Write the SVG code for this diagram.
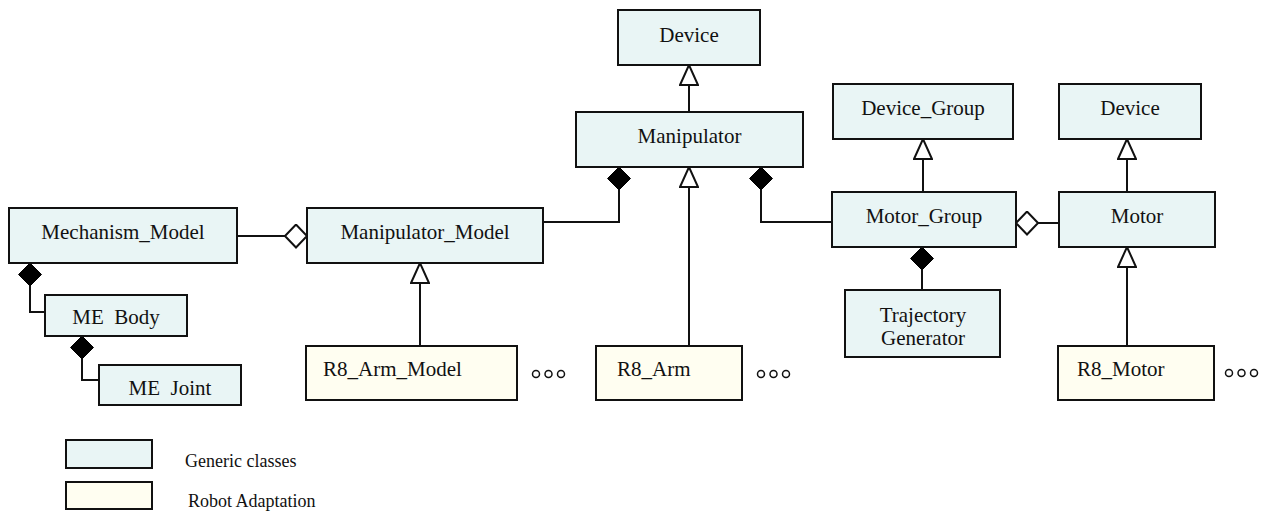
<svg xmlns="http://www.w3.org/2000/svg" width="1272" height="511" viewBox="0 0 1272 511">
  <style>
    .generic { fill: #E9F5F5; stroke: #111; stroke-width: 2; }
    .robot { fill: #FFFEF1; stroke: #111; stroke-width: 2; }
    .label { font-family: "Liberation Serif", "Times New Roman", serif; font-size: 21px; fill: #111; }
    .mid { text-anchor: middle; }
    .legend { font-family: "Liberation Serif", "Times New Roman", serif; font-size: 18px; fill: #111; }
    .edge { fill: none; stroke: #111; stroke-width: 2; }
    .dots circle { fill: none; stroke: #111; stroke-width: 1.5; }
  </style>
  <defs>
    <!-- hollow triangle: generalisation -->
    <marker id="inherit" markerUnits="userSpaceOnUse" markerWidth="22" markerHeight="20" refX="20" refY="9" orient="auto" viewBox="-1 -1 22 20">
      <path d="M0,0 L20,9 L0,18 Z" fill="#fff" stroke="#111" stroke-width="2" stroke-linejoin="miter"/>
    </marker>
    <!-- filled diamond: composition -->
    <marker id="compose" markerUnits="userSpaceOnUse" markerWidth="26" markerHeight="25" refX="23" refY="11.5" orient="auto" viewBox="-1 -1 26 25">
      <path d="M0,11.5 L11.5,0 L23,11.5 L11.5,23 Z" fill="#000" stroke="#000" stroke-width="1"/>
    </marker>
    <!-- hollow diamond: aggregation -->
    <marker id="aggregate" markerUnits="userSpaceOnUse" markerWidth="26" markerHeight="25" refX="22" refY="11.5" orient="auto" viewBox="-1 -1 26 25">
      <path d="M0,11.5 L11,0 L22,11.5 L11,23 Z" fill="#fff" stroke="#111" stroke-width="2"/>
    </marker>
  </defs>

  <!-- connectors -->
  <g id="connectors">
    <path class="edge" d="M689,112 L689,65" marker-end="url(#inherit)"/>
    <path class="edge" d="M689,346 L689,167" marker-end="url(#inherit)"/>
    <path class="edge" d="M543,222 L619,222 L619,167" marker-end="url(#compose)"/>
    <path class="edge" d="M832,222 L761,222 L761,167" marker-end="url(#compose)"/>
    <path class="edge" d="M237,236 L307,236" marker-end="url(#aggregate)"/>
    <path class="edge" d="M45,312 L30,312 L30,263" marker-end="url(#compose)"/>
    <path class="edge" d="M99,380 L82,380 L82,336" marker-end="url(#compose)"/>
    <path class="edge" d="M420,346 L420,263" marker-end="url(#inherit)"/>
    <path class="edge" d="M923,192 L923,139" marker-end="url(#inherit)"/>
    <path class="edge" d="M1127,192 L1127,139" marker-end="url(#inherit)"/>
    <path class="edge" d="M1059,223 L1016,223" marker-end="url(#aggregate)"/>
    <path class="edge" d="M922,290 L922,247" marker-end="url(#compose)"/>
    <path class="edge" d="M1127,346 L1127,247" marker-end="url(#inherit)"/>
  </g>

  <!-- generic classes -->
  <g id="device-top">
    <rect class="generic" x="618" y="10" width="142" height="55"/>
    <text class="label mid" x="689" y="42">Device</text>
  </g>
  <g id="manipulator">
    <rect class="generic" x="576" y="112" width="227" height="55"/>
    <text class="label mid" x="689.5" y="143">Manipulator</text>
  </g>
  <g id="device-group">
    <rect class="generic" x="833" y="84" width="180" height="55"/>
    <text class="label mid" x="923" y="115">Device_Group</text>
  </g>
  <g id="device-right">
    <rect class="generic" x="1059" y="84" width="142" height="55"/>
    <text class="label mid" x="1130" y="115">Device</text>
  </g>
  <g id="mechanism-model">
    <rect class="generic" x="9" y="208" width="228" height="55"/>
    <text class="label mid" x="123" y="239">Mechanism_Model</text>
  </g>
  <g id="manipulator-model">
    <rect class="generic" x="307" y="208" width="236" height="55"/>
    <text class="label mid" x="425" y="239">Manipulator_Model</text>
  </g>
  <g id="motor-group">
    <rect class="generic" x="832" y="192" width="184" height="55"/>
    <text class="label mid" x="924" y="223">Motor_Group</text>
  </g>
  <g id="motor">
    <rect class="generic" x="1059" y="192" width="156" height="55"/>
    <text class="label mid" x="1137" y="223">Motor</text>
  </g>
  <g id="me-body">
    <rect class="generic" x="45" y="295" width="142" height="41"/>
    <text class="label mid" x="116" y="324" xml:space="preserve">ME  Body</text>
  </g>
  <g id="me-joint">
    <rect class="generic" x="99" y="365" width="142" height="40"/>
    <text class="label mid" x="170" y="395" xml:space="preserve">ME  Joint</text>
  </g>
  <g id="trajectory-generator">
    <rect class="generic" x="845" y="290" width="155" height="67"/>
    <text class="label mid" x="923" y="322">Trajectory</text>
    <text class="label mid" x="923" y="345">Generator</text>
  </g>

  <!-- robot-specific classes -->
  <g id="r8-arm-model">
    <rect class="robot" x="306" y="346" width="211" height="54"/>
    <text class="label" x="323" y="376">R8_Arm_Model</text>
  </g>
  <g id="r8-arm">
    <rect class="robot" x="596" y="346" width="146" height="54"/>
    <text class="label" x="617" y="376">R8_Arm</text>
  </g>
  <g id="r8-motor">
    <rect class="robot" x="1058" y="346" width="156" height="54"/>
    <text class="label" x="1077" y="376">R8_Motor</text>
  </g>

  <!-- continuation marks -->
  <g class="dots">
    <circle cx="536" cy="374" r="3.5"/><circle cx="548.5" cy="374" r="3.5"/><circle cx="561" cy="374" r="3.5"/>
    <circle cx="761" cy="374" r="3.5"/><circle cx="773.5" cy="374" r="3.5"/><circle cx="786" cy="374" r="3.5"/>
    <circle cx="1229" cy="373" r="3.5"/><circle cx="1241.5" cy="373" r="3.5"/><circle cx="1254" cy="373" r="3.5"/>
  </g>

  <!-- legend -->
  <g id="legend">
    <rect class="generic" x="66" y="440" width="86" height="28"/>
    <text class="legend" x="185" y="467">Generic classes</text>
    <rect class="robot" x="66" y="482" width="86" height="27"/>
    <text class="legend" x="188" y="507">Robot Adaptation</text>
  </g>
</svg>
